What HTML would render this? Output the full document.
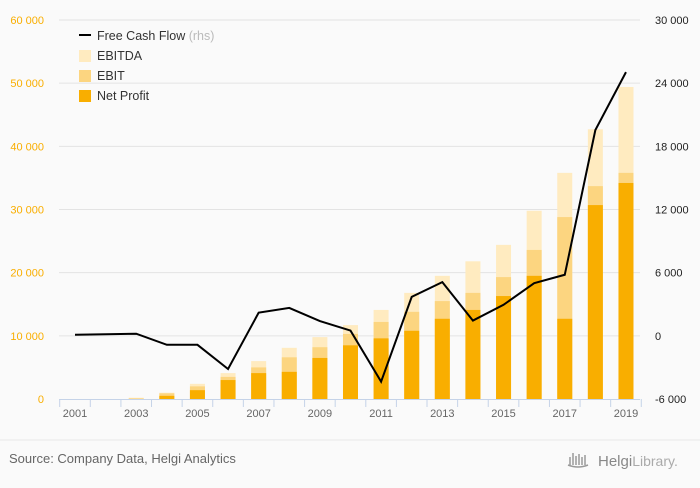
<!DOCTYPE html>
<html><head><meta charset="utf-8"><style>
body{margin:0;background:#fafafa;font-family:"Liberation Sans",sans-serif}
svg text{font-family:"Liberation Sans",sans-serif}
</style></head><body>
<svg width="700" height="483" viewBox="0 0 700 483">
<rect width="700" height="483" fill="#fafafa"/>
<g id="grid"></g><g id="bars"></g><g id="axes"></g><g id="line"></g>
<g font-size="12.5" fill="#333">
<line x1="79" y1="35" x2="91" y2="35" stroke="#000" stroke-width="2"/>
<text x="97" y="40">Free Cash Flow <tspan fill="#bbb">(rhs)</tspan></text>
<rect x="79" y="50" width="12" height="12" fill="#ffebc0"/>
<text x="97" y="60">EBITDA</text>
<rect x="79" y="70" width="12" height="12" fill="#fcd580"/>
<text x="97" y="80">EBIT</text>
<rect x="79" y="90" width="12" height="12" fill="#f9ae00"/>
<text x="97" y="100">Net Profit</text>
</g>
<line x1="0" y1="440" x2="700" y2="440" stroke="#e8e8e8"/>
<text x="9" y="463" font-size="13" fill="#666">Source: Company Data, Helgi Analytics</text>
<g>
<path d="M570 465 v-8 M573 465 v-12 M576 465 v-9 M579 465 v-11 M582 465 v-8 M585 465 v-10" stroke="#999" stroke-width="1.5"/>
<path d="M568 465 q10 4 20 0" stroke="#999" fill="none" stroke-width="1.5"/>
<text x="598" y="466" font-size="15" fill="#888" font-family="Liberation Serif">Helgi<tspan font-size="14" fill="#aaa">Library.</tspan></text>
</g>
</svg>
<script>
const years=[2001,2002,2003,2004,2005,2006,2007,2008,2009,2010,2011,2012,2013,2014,2015,2016,2017,2018,2019];
const netProfit=[0,0,0,500,1400,3000,4100,4300,6500,8500,9600,10800,12700,14100,16300,19500,12700,30700,34200];
const ebit=[0,0,100,900,2000,3500,5000,6600,8200,10300,12200,13800,15500,16800,19300,23600,28800,33700,35800];
const ebitda=[0,0,200,1000,2400,4100,6000,8100,9800,11700,14100,16800,19500,21800,24400,29800,35800,42700,49400];
const fcf=[100,150,200,-850,-850,-3150,2200,2650,1400,500,-4350,3700,5100,1450,2950,5000,5800,19550,25050];
const leftTicks=[0,10000,20000,30000,40000,50000,60000];
const rightTicks=[-6000,0,6000,12000,18000,24000,30000];
const xLabels=[2001,2003,2005,2007,2009,2011,2013,2015,2017,2019];
const NS='http://www.w3.org/2000/svg';
const plotTop=20,plotBot=399,x0=75,dx=30.61;
const yL=v=>plotBot-(v/60000)*(plotBot-plotTop);
const yR=v=>plotBot-((v+6000)/36000)*(plotBot-plotTop);
const xp=i=>x0+i*dx;
const fmt=v=>{const s=Math.abs(v).toString().replace(/\B(?=(\d{3})+(?!\d))/g,' ');return (v<0?'-':'')+s;};
function mk(t,a,p){const e=document.createElementNS(NS,t);for(const k in a)e.setAttribute(k,a[k]);p.appendChild(e);return e;}
const G=document.getElementById('grid'),B=document.getElementById('bars'),A=document.getElementById('axes'),L=document.getElementById('line');
leftTicks.forEach(v=>{
 if(v>0){const g=mk('line',{x1:59,x2:640,y1:yL(v),y2:yL(v),stroke:'#e3e3e3'},G);
 
 }
 const t=mk('text',{x:44,y:yL(v)+4,'text-anchor':'end','font-size':'11',fill:'#f9ae00'},A);t.textContent=fmt(v);
 
 
});
rightTicks.forEach(v=>{
 const t=mk('text',{x:655,y:yR(v)+4,'font-size':'11',fill:'#222'},A);t.textContent=fmt(v);
 
 
});
const ax=mk('line',{x1:59,x2:640,y1:plotBot+0.5,y2:plotBot+0.5,stroke:'#c5d3e8'},A);


for(let i=0;i<=years.length;i++){const x=xp(i)-dx/2;const t=mk('line',{x1:x,x2:x,y1:plotBot,y2:plotBot+8,stroke:'#c5d3e8'},A);
 
 }
xLabels.forEach(y=>{const i=years.indexOf(y);const t=mk('text',{x:xp(i),y:417,'text-anchor':'middle','font-size':'11',fill:'#666'},A);t.textContent=y;
 
 });
const bw=15;
years.forEach((y,i)=>{
 [[ebitda,'#ffebc0','ebitda'],[ebit,'#fcd580','ebit'],[netProfit,'#f9ae00','net-profit']].forEach(([arr,c,n])=>{
  const v=arr[i];if(v<=0)return;
  const r=mk('rect',{x:xp(i)-bw/2,y:yL(v),width:bw,height:plotBot-yL(v),fill:c},B);
  
  
 });
});
const pl=mk('polyline',{points:fcf.map((v,i)=>xp(i)+','+yR(v)).join(' '),fill:'none',stroke:'#000','stroke-width':2,'stroke-linejoin':'miter'},L);


</script>
</body></html>
